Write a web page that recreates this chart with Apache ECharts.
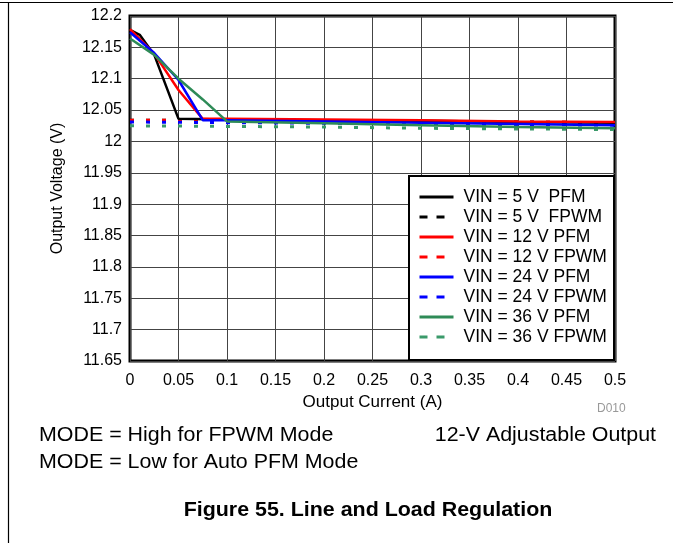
<!DOCTYPE html>
<html>
<head>
<meta charset="utf-8">
<script src="https://cdn.jsdelivr.net/npm/echarts@6/dist/echarts.min.js"></script>
<style>
  html, body { margin: 0; padding: 0; background: #fff; }
  #chart { width: 673px; height: 543px; }
</style>
</head>
<body>
<div id="chart"></div>
<script>
// Output current (A) and output voltage (V) for each input voltage / mode
const vin5Pfm   = [[0, 12.178], [0.01, 12.170], [0.025, 12.138], [0.05, 12.036], [0.1, 12.035], [0.2, 12.034], [0.3, 12.033], [0.4, 12.031], [0.5, 12.030]];
const vin5Fpwm  = [[0, 12.034], [0.1, 12.034], [0.2, 12.033], [0.3, 12.032], [0.4, 12.031], [0.5, 12.030]];
const vin12Pfm  = [[0, 12.179], [0.025, 12.140], [0.05, 12.082], [0.075, 12.036], [0.1, 12.036], [0.2, 12.035], [0.3, 12.034], [0.4, 12.032], [0.5, 12.031]];
const vin12Fpwm = [[0, 12.034], [0.1, 12.034], [0.2, 12.033], [0.3, 12.032], [0.4, 12.031], [0.5, 12.030]];
const vin24Pfm  = [[0, 12.174], [0.025, 12.141], [0.05, 12.098], [0.075, 12.034], [0.1, 12.034], [0.2, 12.032], [0.3, 12.030], [0.4, 12.028], [0.5, 12.026]];
const vin24Fpwm = [[0, 12.031], [0.1, 12.030], [0.2, 12.029], [0.3, 12.028], [0.4, 12.027], [0.5, 12.026]];
const vin36Pfm  = [[0, 12.164], [0.025, 12.138], [0.05, 12.100], [0.075, 12.067], [0.1, 12.032], [0.2, 12.029], [0.3, 12.026], [0.4, 12.023], [0.5, 12.021]];
const vin36Fpwm = [[0, 12.025], [0.1, 12.024], [0.2, 12.023], [0.3, 12.021], [0.4, 12.020], [0.5, 12.019]];

const seriesNames = ['VIN = 5 V  PFM', 'VIN = 5 V  FPWM', 'VIN = 12 V PFM', 'VIN = 12 V FPWM',
                     'VIN = 24 V PFM', 'VIN = 24 V FPWM', 'VIN = 36 V PFM', 'VIN = 36 V FPWM'];
const seriesData = [vin5Pfm, vin5Fpwm, vin12Pfm, vin12Fpwm, vin24Pfm, vin24Fpwm, vin36Pfm, vin36Fpwm];
const seriesColors = ['#000000', '#000000', '#ff0000', '#ff0000', '#0000ff', '#0000ff', '#2e8b57', '#3a9a6a'];

const FONT = '"Liberation Sans", Arial, sans-serif';

const chart = echarts.init(document.getElementById('chart'), null, { renderer: 'canvas' });

const series = seriesNames.map((name, i) => {
  const dashed = i % 2 === 1;
  return {
    name: name,
    type: 'line',
    data: seriesData[i],
    symbol: 'none',
    silent: true,
    animation: false,
    z: dashed ? 3 : 4,
    lineStyle: {
      color: seriesColors[i],
      width: dashed ? 3 : 2.5,
      type: dashed ? [4, 12] : 'solid'
    },
    itemStyle: { color: seriesColors[i] }
  };
});

// Caption text below the plot, slightly widened
const caption = (x, y, text, font, align) => ({
  type: 'text', x: x, y: y, scaleX: 1.07,
  style: { text: text, font: font, fill: '#000', align: align, verticalAlign: 'top' }
});

chart.setOption({
  backgroundColor: '#ffffff',
  animation: false,
  grid: {
    left: 130, top: 16, right: 58, bottom: 182,
    show: true, borderColor: '#000', borderWidth: 3, backgroundColor: 'transparent'
  },
  xAxis: {
    type: 'value', min: 0, max: 0.5, interval: 0.05,
    name: 'Output Current (A)', nameLocation: 'middle', nameGap: 30,
    nameTextStyle: { fontFamily: FONT, fontSize: 17, color: '#000' },
    axisLine: { show: false }, axisTick: { show: false },
    axisLabel: { fontFamily: FONT, fontSize: 16, color: '#000', margin: 12 },
    splitLine: { show: true, lineStyle: { color: '#444', width: 1 } }
  },
  yAxis: {
    type: 'value', min: 11.65, max: 12.2, interval: 0.05,
    name: 'Output Voltage (V)', nameLocation: 'middle', nameGap: 64,
    nameTextStyle: { fontFamily: FONT, fontSize: 16, color: '#000' },
    axisLine: { show: false }, axisTick: { show: false },
    axisLabel: { fontFamily: FONT, fontSize: 16, color: '#000', margin: 8,
      formatter: v => String(parseFloat(v.toFixed(2))) },
    splitLine: { show: true, lineStyle: { color: '#444', width: 1 } }
  },
  legend: {
    orient: 'vertical', left: 418, top: 188,
    itemWidth: 34, itemHeight: 14, itemGap: 2, padding: 0,
    z: 10,
    selectedMode: false,
    textStyle: { fontFamily: FONT, fontSize: 17.5, color: '#000', lineHeight: 17, padding: [0, 0, 0, 5] },
    data: seriesNames.map((n, i) => ({
      name: n,
      itemStyle: { opacity: 0 },
      lineStyle: { width: 3, type: i % 2 === 1 ? [8, 9] : 'solid' }
    }))
  },
  graphic: [
    { type: 'rect', z: 5, shape: { x: 409, y: 176, width: 205, height: 184 },
      style: { fill: '#fff', stroke: '#000', lineWidth: 2 } },
    { type: 'line', shape: { x1: 0, y1: 2.5, x2: 673, y2: 2.5 }, style: { stroke: '#000', lineWidth: 1.2 } },
    { type: 'line', shape: { x1: 8.5, y1: 2, x2: 8.5, y2: 543 }, style: { stroke: '#000', lineWidth: 1.2 } },
    { type: 'text', left: 597, top: 403, style: { text: 'D010', font: '12px ' + FONT, fill: '#999' } },
    caption(39, 425, 'MODE = High for FPWM Mode', '20px ' + FONT, 'left'),
    caption(39, 452, 'MODE = Low for Auto PFM Mode', '20px ' + FONT, 'left'),
    caption(656, 425, '12-V Adjustable Output', '20px ' + FONT, 'right'),
    caption(368, 500, 'Figure 55. Line and Load Regulation', 'bold 20px ' + FONT, 'center')
  ],
  series: series
});
</script>
</body>
</html>
